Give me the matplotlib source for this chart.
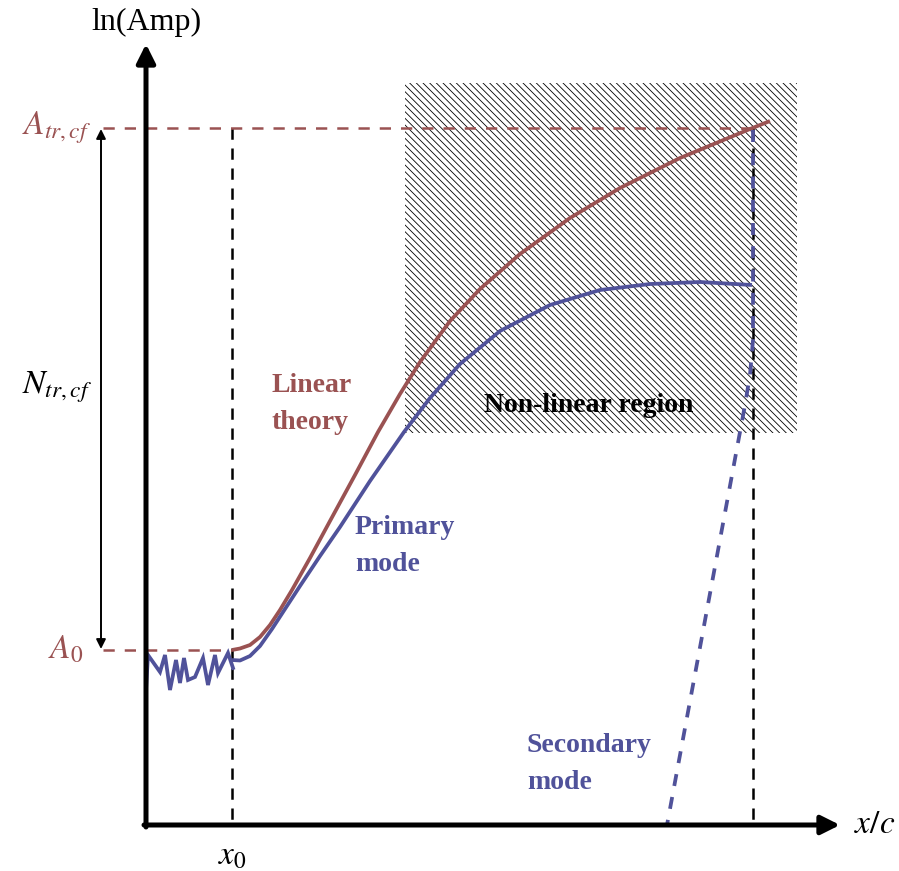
import numpy as np
import matplotlib.pyplot as plt
from matplotlib.patches import Rectangle

# Schematic drawn in image-pixel coordinates (y grows downward)
RED = '#9a5252'
BLUE = '#50529a'

# Key levels / positions
x_axis_y = 825
y_axis_x = 146
x0 = 232
x_end = 753
A0_level = 650
Atr_level = 128
nonlin_box = (405, 83, 797, 433)   # x0, y0, x1, y1

# Linear theory curve (red)
lin_x = [232, 240, 250, 260, 270, 280, 292, 310, 330, 355, 378, 400, 420,
         450, 480, 520, 570, 620, 680, 750, 770]
lin_y = [650, 648.5, 645, 637, 625, 610, 590, 558, 521, 475, 432, 394, 362,
         321, 289, 254, 218, 188, 158, 129, 121]

# Primary mode curve (blue)
prim_x = [232, 240, 250, 260, 272, 285, 300, 320, 340, 370, 404, 430, 460,
          500, 550, 600, 650, 700, 752]
prim_y = [660, 660.5, 656, 646, 629, 609, 586, 556, 527, 481, 432, 398, 364,
          331, 305, 290, 284, 282, 285]

# Noisy initial disturbance (blue zigzag)
noise_x = [146, 148, 160, 165, 170, 176, 180, 184, 188, 195, 203, 208, 215, 218, 223, 228, 233]
noise_y = [690, 655, 672, 655, 690, 660, 683, 658, 680, 677, 658, 685, 655, 673, 663, 653, 668]

# Secondary mode (blue dashed)
sec_x = [753, 753, 750, 745, 667]
sec_y = [130, 340, 375, 405, 825]

plt.rcParams['font.family'] = ['Liberation Serif', 'DejaVu Serif']
plt.rcParams['mathtext.fontset'] = 'stix'
plt.rcParams['hatch.linewidth'] = 0.6
plt.rcParams['hatch.color'] = '#4a4a4a'

fig = plt.figure(figsize=(8.99, 8.71), dpi=100)
ax = fig.add_axes([0, 0, 1, 1])
ax.set_xlim(0, 899)
ax.set_ylim(871, 0)
ax.axis('off')

# Non-linear hatched region
bx0, by0, bx1, by1 = nonlin_box
ax.add_patch(Rectangle((bx0, by0), bx1 - bx0, by1 - by0, fill=False,
                       hatch='\\' * 5, lw=0, zorder=1))
ax.text((bx0 + bx1) / 2 - 12, 405, 'Non-linear region', ha='center', va='center',
        fontsize=20, fontweight='bold', color='black', zorder=6)

# Axes with arrows
ax.annotate('', xy=(y_axis_x, 44), xytext=(y_axis_x, x_axis_y + 2),
            arrowprops=dict(arrowstyle='-|>', lw=3.6, color='k', mutation_scale=28,
                            shrinkA=0, shrinkB=0), zorder=5)
ax.annotate('', xy=(840, x_axis_y), xytext=(y_axis_x - 2, x_axis_y),
            arrowprops=dict(arrowstyle='-|>', lw=3.6, color='k', mutation_scale=28,
                            shrinkA=0, shrinkB=0), zorder=5)
ax.text(y_axis_x, 22, 'ln(Amp)', ha='center', va='center', fontsize=23)
ax.text(875, x_axis_y, r'$x/c$', ha='center', va='center', fontsize=24)

# Reference dashed lines
ax.plot([103, x_end], [Atr_level, Atr_level], color=RED, lw=1.8, ls=(0, (4.5, 4)), zorder=3)
ax.plot([103, x0], [A0_level, A0_level], color=RED, lw=1.8, ls=(0, (4.5, 4)), zorder=3)
ax.plot([x0, x0], [Atr_level, x_axis_y], color='k', lw=1.8, ls=(0, (4.5, 3.5)), zorder=2)
ax.plot([x_end, x_end], [Atr_level, x_axis_y], color='k', lw=1.8, ls=(0, (4.5, 3.5)), zorder=2)

# Double-headed amplitude arrow
ax.annotate('', xy=(101, Atr_level + 1), xytext=(101, A0_level - 1),
            arrowprops=dict(arrowstyle='<|-|>', lw=1.4, color='k', mutation_scale=14,
                            shrinkA=0, shrinkB=0))

ax.text(57, Atr_level, r'$A_{tr,cf}$', ha='center', va='center', fontsize=24, color=RED)
ax.text(66, A0_level, r'$A_0$', ha='center', va='center', fontsize=24, color=RED)
ax.text(57, 387, r'$N_{tr,cf}$', ha='center', va='center', fontsize=24, color='k')
ax.text(x0, 856, r'$x_0$', ha='center', va='center', fontsize=24, color='k')

# Curves
ax.plot(lin_x, lin_y, color=RED, lw=2.7, zorder=4, solid_capstyle='butt')
ax.plot(prim_x, prim_y, color=BLUE, lw=2.7, zorder=4, solid_capstyle='butt')
ax.plot(noise_x, noise_y, color=BLUE, lw=2.7, zorder=4, solid_joinstyle='miter')
ax.plot(sec_x, sec_y, color=BLUE, lw=2.7, ls=(0, (3.2, 3)), zorder=4)

# Labels
ax.text(271, 404, 'Linear\ntheory', ha='left', va='center', fontsize=20,
        fontweight='bold', color=RED, linespacing=1.65)
ax.text(355, 546, 'Primary\nmode', ha='left', va='center', fontsize=20,
        fontweight='bold', color=BLUE, linespacing=1.65)
ax.text(527, 764, 'Secondary\nmode', ha='left', va='center', fontsize=20,
        fontweight='bold', color=BLUE, linespacing=1.65)

fig.savefig('out.png', dpi=100)
